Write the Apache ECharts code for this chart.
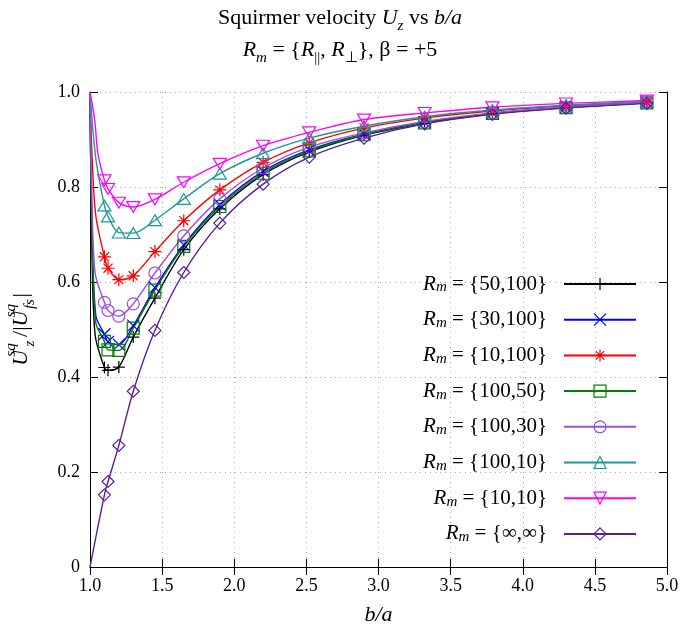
<!DOCTYPE html>
<html><head><meta charset="utf-8">
<script src="https://cdn.jsdelivr.net/npm/echarts@6/dist/echarts.min.js"></script>
<style>html,body{margin:0;padding:0;background:#fff}#c{width:680px;height:632px}</style>
</head><body><div id="c"></div>
<script>
// ---- data ----
const bVals = [1.1, 1.125, 1.2, 1.3, 1.45, 1.65, 1.9, 2.2, 2.52, 2.9, 3.32, 3.79, 4.3, 4.86];
const seriesNames = ['{50,100}', '{30,100}', '{10,100}', '{100,50}', '{100,30}', '{100,10}', '{10,10}', '{∞,∞}'];
const u50_100 = [0.420, 0.414, 0.421, 0.484, 0.566, 0.668, 0.754, 0.826, 0.874, 0.909, 0.934, 0.954, 0.967, 0.977];
const u30_100 = [0.490, 0.474, 0.468, 0.508, 0.588, 0.678, 0.763, 0.833, 0.878, 0.911, 0.936, 0.955, 0.968, 0.977];
const u10_100 = [0.653, 0.629, 0.605, 0.613, 0.664, 0.729, 0.794, 0.852, 0.893, 0.924, 0.945, 0.960, 0.971, 0.979];
const u100_50 = [0.475, 0.457, 0.456, 0.503, 0.583, 0.675, 0.759, 0.829, 0.876, 0.910, 0.935, 0.955, 0.967, 0.977];
const u100_30 = [0.557, 0.540, 0.528, 0.554, 0.619, 0.697, 0.775, 0.840, 0.884, 0.914, 0.938, 0.956, 0.968, 0.978];
const u100_10 = [0.761, 0.738, 0.704, 0.703, 0.730, 0.775, 0.828, 0.871, 0.903, 0.928, 0.948, 0.962, 0.972, 0.980];
const u10_10  = [0.814, 0.796, 0.767, 0.758, 0.774, 0.810, 0.849, 0.887, 0.915, 0.942, 0.956, 0.968, 0.976, 0.982];
const uInf    = [0.152, 0.180, 0.256, 0.370, 0.498, 0.620, 0.724, 0.806, 0.863, 0.903, 0.933, 0.953, 0.966, 0.976];
// curve-only points near b/a = 1 (no markers)
const leadX_50_100 = [1.0, 1.012, 1.035], leadY_50_100 = [1.0, 0.70, 0.49];
const leadX_30_100 = [1.0, 1.012, 1.04],  leadY_30_100 = [1.0, 0.74, 0.53];
const leadX_10_100 = [1.0, 1.015, 1.04],  leadY_10_100 = [1.0, 0.86, 0.74];
const leadX_100_50 = [1.0, 1.012, 1.04],  leadY_100_50 = [1.0, 0.73, 0.515];
const leadX_100_30 = [1.0, 1.012, 1.035], leadY_100_30 = [1.0, 0.80, 0.62];
const leadX_100_10 = [1.0, 1.02, 1.045],  leadY_100_10 = [1.0, 0.92, 0.85];
const leadX_10_10  = [1.0, 1.033, 1.055], leadY_10_10  = [1.0, 0.94, 0.87];
const leadX_inf    = [1.0],               leadY_inf    = [0.0];
const xTicks = [1, 5, 0.5];
const yTicks = [0, 1, 0.2];

// ---- styles ----
const FONT = 'Liberation Serif';
const colors = ['#000000', '#0000ff', '#ff0000', '#008000', '#9b4de8', '#1a9999', '#ff00ff', '#5a1e96'];
const symbols = [
  'path://M0,6L12,6M6,0L6,12',
  'path://M0,0L12,12M12,0L0,12',
  'path://M0,6L12,6M6,0L6,12M1.8,1.8L10.2,10.2M10.2,1.8L1.8,10.2',
  'path://M0,0L12,0L12,12L0,12Z',
  'path://M12,6A6,6,0,1,1,0,6A6,6,0,1,1,12,6Z',
  'path://M6,0L12,10L0,10Z',
  'path://M0,0L12,0L6,10Z',
  'path://M6,0L12,6L6,12L0,6Z'
];
const symSizes = [12, 12, 13, 12, 12, 13, 13, 12];
const allVals = [u50_100, u30_100, u10_100, u100_50, u100_30, u100_10, u10_10, uInf];
const allLeadX = [leadX_50_100, leadX_30_100, leadX_10_100, leadX_100_50, leadX_100_30, leadX_100_10, leadX_10_10, leadX_inf];
const allLeadY = [leadY_50_100, leadY_30_100, leadY_10_100, leadY_100_50, leadY_100_30, leadY_100_10, leadY_10_10, leadY_inf];

function buildData(lx, ly, vals) {
  const d = [];
  lx.forEach((x, i) => d.push({ value: [x, ly[i]], symbol: 'none' }));
  bVals.forEach((x, i) => d.push([x, vals[i]]));
  return d;
}

const series = seriesNames.map((n, k) => ({
  name: n,
  type: 'line',
  data: buildData(allLeadX[k], allLeadY[k], allVals[k]),
  smooth: 0.3,
  showAllSymbol: true,
  symbol: symbols[k],
  symbolSize: symSizes[k],
  symbolKeepAspect: true,
  lineStyle: { color: colors[k], width: 1.4 },
  itemStyle: { color: 'none', borderColor: colors[k], borderWidth: 1.2 },
  emphasis: { disabled: true },
  animation: false,
  xAxisIndex: 0, yAxisIndex: 0
}));

const gridLine = { show: true, lineStyle: { color: '#a8a8a8', width: 1, type: [1, 4] } };
const tickIn = { show: true, inside: true, length: 8, lineStyle: { color: '#000', width: 1 } };
const lbl = { fontFamily: FONT, fontSize: 18, color: '#000' };

const chart = echarts.init(document.getElementById('c'), null, { renderer: 'canvas' });
chart.setOption({
  animation: false,
  backgroundColor: '#fff',
  title: {
    text: 'Squirmer velocity {i|U}{sub|z} vs {i|b/a}\n{i|R}{sub|m} = {{i|R}{subn|||}, {i|R}{subn|⊥}}, β = +5',
    left: 'center', top: 2, padding: 0,
    textStyle: {
      fontFamily: FONT, fontSize: 22, fontWeight: 'normal', color: '#000', lineHeight: 32,
      rich: {
        i: { fontFamily: FONT, fontSize: 22, fontStyle: 'italic', color: '#000' },
        sub: { fontFamily: FONT, fontSize: 15, fontStyle: 'italic', color: '#000', verticalAlign: 'bottom', lineHeight: 18 },
        subn: { fontFamily: FONT, fontSize: 15, color: '#000', verticalAlign: 'bottom', lineHeight: 18 }
      }
    }
  },
  grid: { left: 90, right: 13, top: 92, bottom: 65, containLabel: false, outerBoundsMode: 'none' },
  legend: {
    orient: 'vertical', right: 43, top: 273, align: 'right', padding: 0,
    itemWidth: 72, itemHeight: 15, itemGap: 13.7, selectedMode: false,
    itemStyle: { borderWidth: 1.2 },
    formatter: n => '{i|R}{m|m} = ' + n,
    textStyle: {
      fontFamily: FONT, fontSize: 21, color: '#000', lineHeight: 22, padding: [0, 12, 0, 0],
      rich: {
        i: { fontFamily: FONT, fontSize: 21, fontStyle: 'italic', color: '#000' },
        m: { fontFamily: FONT, fontSize: 15, fontStyle: 'italic', color: '#000', verticalAlign: 'bottom', lineHeight: 6 }
      }
    },
    data: seriesNames
  },
  xAxis: [{
    type: 'value', min: xTicks[0], max: xTicks[1], interval: xTicks[2],
    axisLine: { show: true, lineStyle: { color: '#000', width: 1 } },
    axisTick: tickIn, splitLine: gridLine, minorTick: { show: false },
    axisLabel: Object.assign({ margin: 10, formatter: v => v.toFixed(1) }, lbl),
    name: 'b/a', nameLocation: 'middle', nameGap: 37,
    nameTextStyle: { fontFamily: FONT, fontSize: 22, fontStyle: 'italic', color: '#000' }
  }, {
    type: 'value', position: 'top', min: xTicks[0], max: xTicks[1], interval: xTicks[2],
    axisLine: { show: true, lineStyle: { color: '#000', width: 1 } },
    axisTick: tickIn, splitLine: { show: false }, axisLabel: { show: false }
  }],
  yAxis: [{
    type: 'value', min: yTicks[0], max: yTicks[1], interval: yTicks[2],
    axisLine: { show: true, lineStyle: { color: '#000', width: 1 } },
    axisTick: tickIn, splitLine: gridLine,
    axisLabel: Object.assign({ margin: 10, formatter: v => v === 0 ? '0' : v.toFixed(1) }, lbl),
    name: '{i|U}{sup|sq}{sub|z}{n|/|}{i|U}{sup|sq}{subw|fs}{n||}', nameLocation: 'middle', nameGap: 52, nameRotate: 90,
    nameTextStyle: {
      fontFamily: FONT, fontSize: 22, color: '#000', lineHeight: 34,
      rich: {
        n: { fontFamily: FONT, fontSize: 22, color: '#000' },
        i: { fontFamily: FONT, fontSize: 22, fontStyle: 'italic', color: '#000' },
        sup: { fontFamily: FONT, fontSize: 15, fontStyle: 'italic', color: '#000', verticalAlign: 'top', lineHeight: 12, width: 0 },
        sub: { fontFamily: FONT, fontSize: 15, fontStyle: 'italic', color: '#000', verticalAlign: 'bottom', lineHeight: 10, width: 13 },
        subw: { fontFamily: FONT, fontSize: 15, fontStyle: 'italic', color: '#000', verticalAlign: 'bottom', lineHeight: 10, width: 13 }
      }
    }
  }, {
    type: 'value', position: 'right', min: yTicks[0], max: yTicks[1], interval: yTicks[2],
    axisLine: { show: true, lineStyle: { color: '#000', width: 1 } },
    axisTick: tickIn, splitLine: { show: false }, axisLabel: { show: false }
  }],
  series: series
});
</script></body></html>
